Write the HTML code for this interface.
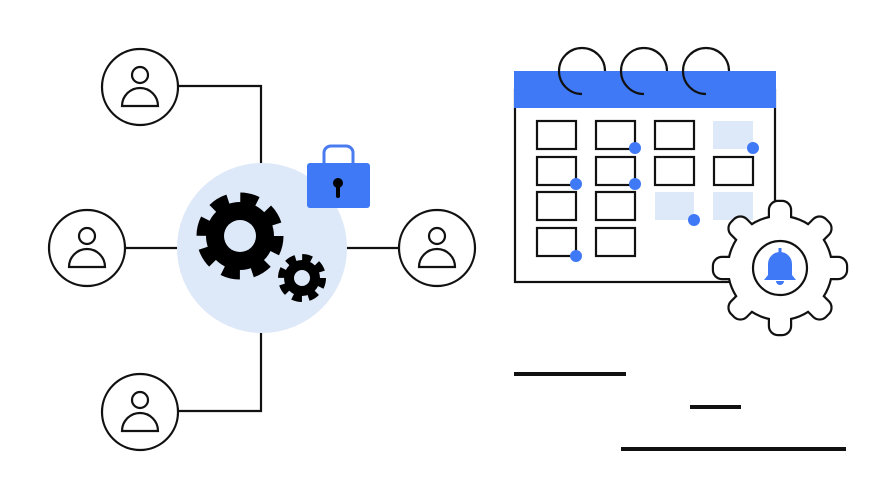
<!DOCTYPE html>
<html><head><style>html,body{margin:0;padding:0;background:#fff}svg{display:block}</style></head>
<body>
<svg width="893" height="500" viewBox="0 0 893 500" xmlns="http://www.w3.org/2000/svg">
<g fill="none" stroke="#111" stroke-width="2.2">
<polyline points="178,86 261,86 261,164"/>
<polyline points="261,333 261,411 178,411"/>
<line x1="126" y1="248" x2="178" y2="248"/>
<line x1="346" y1="248" x2="398" y2="248"/>
</g>
<circle cx="262" cy="248" r="85" fill="#dde8f8"/>
<g fill="#fff" stroke="#111" stroke-width="2.2">
<circle cx="140" cy="87" r="38"/><circle cx="140" cy="75" r="8"/><path d="M122,106 A18,18 0 0 1 158,106 Z"/>
<circle cx="87" cy="248" r="38"/><circle cx="87" cy="236" r="8"/><path d="M69,267 A18,18 0 0 1 105,267 Z"/>
<circle cx="437" cy="248" r="38"/><circle cx="437" cy="236" r="8"/><path d="M419,267 A18,18 0 0 1 455,267 Z"/>
<circle cx="140" cy="412" r="38"/><circle cx="140" cy="400" r="8"/><path d="M122,431 A18,18 0 0 1 158,431 Z"/>
</g>
<circle cx="240" cy="236" r="34" fill="#000"/>
<circle cx="240" cy="236" r="37" fill="none" stroke="#000" stroke-width="13" stroke-dasharray="17 12.06"/>
<circle cx="240" cy="236" r="16" fill="#dde8f8"/>
<circle cx="302" cy="278" r="18" fill="#000"/>
<circle cx="302" cy="278" r="20.5" fill="none" stroke="#000" stroke-width="7" stroke-dasharray="9.5 6.6"/>
<circle cx="302" cy="278" r="8" fill="#dde8f8"/>
<path d="M324,163 V152 A7,7 0 0 1 331,146 H346 A7,7 0 0 1 353,152 V163" fill="none" stroke="#4a7cf0" stroke-width="3"/>
<rect x="307" y="163" width="63" height="45" rx="3" fill="#3f79f5"/>
<circle cx="338" cy="183" r="5" fill="#000"/>
<rect x="336" y="183" width="4" height="15" rx="2" fill="#000"/>
<rect x="515" y="90" width="260" height="192" fill="#fff" stroke="#111" stroke-width="2.2"/>
<rect x="514" y="71" width="262" height="37" fill="#3f79f5"/>
<g fill="none" stroke="#111" stroke-width="2.2">
<path d="M605,71 A23,23 0 1 0 582,94"/>
<path d="M667,71 A23,23 0 1 0 644,94"/>
<path d="M729,71 A23,23 0 1 0 706,94"/>
</g>
<g fill="#dde8f8">
<rect x="713" y="121" width="40" height="28"/>
<rect x="655" y="192" width="39" height="28"/>
<rect x="713" y="192" width="40" height="28"/>
</g>
<g fill="none" stroke="#111" stroke-width="2.2">
<rect x="537" y="121" width="39" height="28"/><rect x="596" y="121" width="39" height="28"/><rect x="655" y="121" width="39" height="28"/>
<rect x="537" y="157" width="39" height="28"/><rect x="596" y="157" width="39" height="28"/><rect x="655" y="157" width="39" height="28"/><rect x="714" y="157" width="39" height="28"/>
<rect x="537" y="192" width="39" height="28"/><rect x="596" y="192" width="39" height="28"/>
<rect x="537" y="228" width="39" height="28"/><rect x="596" y="228" width="39" height="28"/>
</g>
<g fill="#3f79f5">
<circle cx="635" cy="148" r="6"/><circle cx="753" cy="148" r="6"/>
<circle cx="576" cy="184" r="6"/><circle cx="635" cy="184" r="6"/>
<circle cx="694" cy="220" r="6"/><circle cx="576" cy="256" r="6"/>
</g>
<g transform="translate(780,268)">
<g stroke="#111" stroke-width="4.4" fill="#111">
<circle r="51"/>
<g id="t"><rect x="-10" y="-66" width="20" height="132" rx="8"/></g>
<use href="#t" transform="rotate(45)"/><use href="#t" transform="rotate(90)"/><use href="#t" transform="rotate(135)"/>
</g>
<g fill="#fff">
<circle r="51"/>
<g id="tw"><rect x="-10" y="-66" width="20" height="132" rx="8"/></g>
<use href="#tw" transform="rotate(45)"/><use href="#tw" transform="rotate(90)"/><use href="#tw" transform="rotate(135)"/>
</g>
<circle r="27" fill="#fff" stroke="#111" stroke-width="2.2"/>
<path d="M-16,12 L-12,7 V-4 A12,12 0 0 1 12,-4 V7 L16,12 Z" fill="#3f79f5"/>
<rect x="-1.5" y="-20" width="3" height="5" fill="#3f79f5"/>
<path d="M-4,13 A4,4 0 0 0 4,13 Z" fill="#3f79f5"/>
</g>
<g stroke="#111" stroke-width="4">
<line x1="514" y1="374" x2="626" y2="374"/>
<line x1="690" y1="407" x2="741" y2="407"/>
<line x1="621" y1="449" x2="846" y2="449"/>
</g>
</svg>
</body></html>
